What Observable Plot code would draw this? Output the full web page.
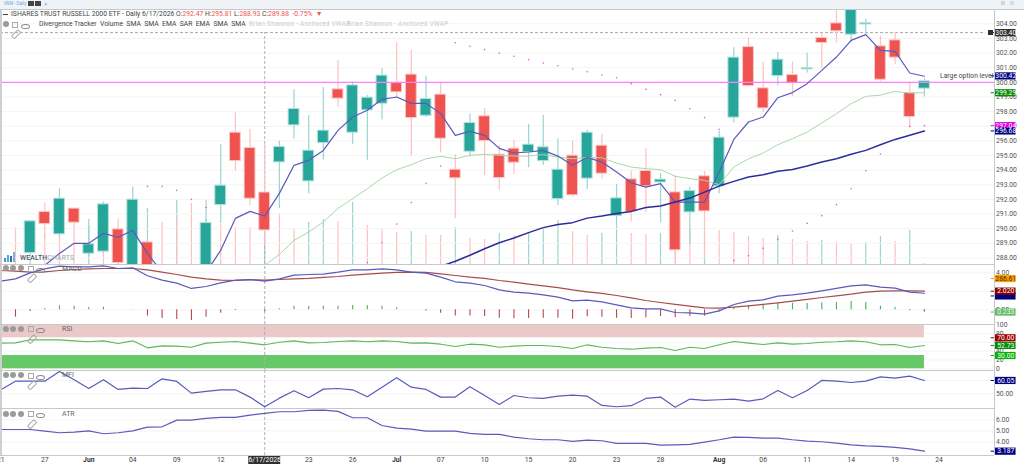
<!DOCTYPE html>
<html><head><meta charset="utf-8">
<script src="https://cdn.jsdelivr.net/npm/d3@7"></script>
<script src="https://cdn.jsdelivr.net/npm/@observablehq/plot@0.6"></script>
<style>
html,body{margin:0;padding:0;background:#fff;width:1024px;height:464px;overflow:hidden;font-family:Roboto,"Liberation Sans",sans-serif}
#stage{position:relative;width:1024px;height:464px;overflow:hidden}
#stage svg{position:absolute;left:0}
.t{position:absolute;white-space:nowrap;font-size:7px;line-height:8px;color:#444}
.b{position:absolute}
</style></head><body><div id="stage"></div>
<script>
const opens=[287.4,288.33,291.14,289.61,291.37,288.29,288.43,289.95,287.0,289.06,287.2,287.4,287.0,287.2,291.61,296.56,295.51,292.47,294.53,297.06,293.23,295.85,299.52,296.56,298.09,298.54,299.95,300.53,297.72,299.16,294.03,295.26,297.68,295.06,295.47,295.22,294.62,292.02,294.99,293.42,295.67,290.86,293.37,293.94,293.16,292.48,291.11,293.58,292.89,297.59,302.41,299.59,300.43,300.50,300.89,303.03,304.03,303.26,303.96,302.46,302.87,299.27,299.57];
const highs=[287.5,290.5,291.73,292.73,291.37,290.62,291.82,290.64,292.84,289.06,287.4,290.86,287.4,291.9,295.74,297.90,296.77,295.81,295.97,299.50,297.74,299.64,301.50,300.02,299.11,300.94,302.71,302.19,300.41,299.95,295.06,297.86,298.2,295.69,296.04,297.13,297.76,296.15,295.99,296.72,296.43,293.01,293.94,295.47,293.76,293.62,292.84,293.92,296.65,302.37,303.03,301.37,302.03,301.39,302.0,303.37,305.3,305.6,304.31,303.14,303.40,300.02,300.25];
const lows=[286.5,288.33,289.27,289.4,290.0,288.1,288.3,287.5,286.8,286.8,286,286,286,287,290.34,293.94,291.59,288.93,291.37,296.12,292.39,294.67,298.3,295.74,294.67,297.45,299.0,294.96,297.59,295.17,290.68,294.89,293.64,292.62,293.71,294.17,294.33,291.59,292.16,292.67,293.37,290.16,290.45,291.09,290.38,287.63,288.91,287.97,292.39,297.22,299.66,297.90,299.75,299.04,300.64,300.94,302.69,302.73,303.26,300.07,301.21,296.94,299.0];
const closes=[286.8,290.50,290.31,292.05,290.41,288.93,291.66,287.65,291.98,287.0,286.5,286.4,286.5,290.38,292.94,294.62,292.05,289.88,295.58,298.18,295.33,296.70,298.89,299.79,298.95,300.46,299.32,297.56,298.86,296.15,293.44,297.22,295.99,293.46,294.51,295.74,295.56,294.03,292.28,296.56,293.76,292.07,291.14,292.89,293.35,288.52,292.57,291.18,296.22,301.69,299.75,298.22,301.55,299.95,300.98,302.69,303.49,305.3,304.05,300.18,301.69,297.63,300.07];
const volumes=[18.5,14,15,15,17.5,19,12.5,15,14,28,21,32,30.5,22.5,20,18.5,18.5,15.5,25.5,18,21,22.5,21.5,31,19.5,18,16,16.5,14.5,14.5,18.5,13,12.5,15.5,14.5,15.5,18,22,16.5,14.5,15.5,19,15.5,15,15.5,12.5,17.5,16,17,16,14,13,14.5,12.5,11.5,12,11,10,11,14,11.5,17,0.5];
const volumeUp=[0,1,0,0,0,1,0,0,1,1,0,1,0,1,0,0,0,1,0,0,1,1,0,1,0,0,0,1,0,0,1,0,0,1,0,1,1,1,0,0,1,1,0,0,1,0,0,1,0,0,0,0,1,0,0,1,0,0,1,1,0,1,0];
// fast SMA begins at bar 2, slow SMA at bar 17, VWAP at bar 29
const smaFast=[287.49,288.31,289.0,289.0,289.68,289.41,289.88,288.31,287.01,286.81,286.81,287.01,288.52,290.70,291.18,290.86,292.41,294.33,294.67,295.35,296.72,297.63,298.09,298.84,299.0,298.56,298.56,297.88,296.38,296.65,296.38,295.49,295.17,295.24,295.35,294.96,294.33,294.87,294.55,293.87,293.14,292.84,293.08,291.82,291.82,291.82,293.85,296.10,297.29,297.63,298.95,299.30,299.91,300.82,301.73,302.87,303.26,302.19,302.12,300.64,300.42];
const smaSlow=[287.49,288.24,289.20,289.77,290.45,291.39,292.05,292.73,293.46,294.03,294.37,294.78,294.94,294.78,295.01,295.08,295.01,294.96,294.96,295.06,294.89,294.78,294.85,294.85,294.48,294.21,294.10,294.03,293.58,293.42,293.30,293.01,294.21,294.78,295.17,295.74,296.15,296.60,297.22,297.86,298.54,299.04,299.13,299.38,299.27,299.29];
const vwap=[287.42,287.77,288.18,288.63,289.04,289.36,289.73,290.07,290.29,290.41,290.72,290.86,291.03,291.18,291.44,291.55,291.82,292.09,292.50,292.91,293.23,293.53,293.69,293.92,294.05,294.28,294.55,294.78,295.08,295.35,295.74,296.10,296.38,296.68];
const sarBars=[9,10,11,12,13,24,25,26,27,28,29,30,31,32,33,34,35,36,37,38,39,40,41,42,43,44,45,46,47,48,49,50,51,52,53,54,55,56,57,58,59,61,62];
const sarValues=[292.89,292.89,292.62,292.0,291.44,287.68,289.04,290.31,291.78,293.10,294.28,302.71,302.46,302.24,302.0,301.78,301.55,301.32,301.14,300.91,300.73,300.50,300.32,299.91,299.52,299.16,298.77,298.20,297.59,296.79,287.83,288.15,288.65,289.27,289.84,290.36,290.89,291.64,292.73,293.96,295.10,296.99,297.04];
// oscillators begin one bar before the first candle
const macdLine=[3.10,3.35,4.00,4.43,4.72,4.65,4.65,4.76,4.47,4.54,3.68,3.21,2.88,2.31,2.52,2.92,3.21,3.28,3.10,3.35,3.75,3.82,3.86,4.07,4.32,4.32,4.43,4.32,4.07,3.96,3.53,3.03,2.88,2.63,2.16,1.91,1.80,1.62,1.37,0.97,1.05,0.86,0.54,0.22,0.11,0.11,-0.29,-0.32,-0.47,-0.11,0.58,0.94,1.08,1.48,1.62,1.80,2.05,2.31,2.59,2.70,2.45,2.34,1.91,1.79];
const macdSignal=[4.25,4.18,4.07,4.11,4.25,4.36,4.43,4.47,4.47,4.47,4.32,4.07,3.82,3.53,3.35,3.21,3.17,3.24,3.21,3.28,3.35,3.39,3.50,3.60,3.75,3.86,3.96,4.04,4.07,4.04,3.89,3.71,3.53,3.39,3.17,2.99,2.78,2.59,2.41,2.16,1.95,1.77,1.55,1.30,1.01,0.79,0.58,0.40,0.22,0.18,0.29,0.43,0.58,0.76,0.94,1.12,1.33,1.51,1.69,1.91,2.02,2.05,2.05,2.02];
const macdHist=[-0.79,-0.18,0.14,0.43,0.40,0.25,0.29,0,0.04,-0.68,-0.94,-1.05,-1.15,-0.79,-0.36,-0.07,0,-0.22,0.11,0.40,0.36,0.40,0.40,0.47,0.43,0.40,0.22,0,-0.14,-0.36,-0.68,-0.68,-0.72,-0.90,-0.97,-0.94,-0.90,-0.90,-1.01,-0.76,-0.79,-0.90,-0.94,-0.86,-0.72,-0.86,-0.72,-0.68,-0.22,0.22,0.47,0.54,0.72,0.72,0.68,0.76,0.79,0.90,0.79,0.40,0.25,-0.11,-0.233];
const rsiValues=[58.0,58.6,65.4,65.4,65.4,63.1,60.9,63.1,57.1,63.1,47.3,51.8,51.1,48.8,57.9,60.1,61.6,57.9,54.1,60.1,63.1,58.6,59.4,61.6,63.1,60.9,63.1,61.6,57.9,58.6,55.6,50.3,55.6,54.1,48.8,51.1,52.6,52.6,50.3,45.8,54.1,48.8,45.8,44.3,46.6,48.1,41.3,48.8,45.8,54.1,61.6,57.9,54.9,58.6,55.6,57.1,60.1,60.9,63.1,60.9,54.1,54.9,48.1,52.73];
const mfiValues=[53.0,59.5,59.5,59.5,66.8,60.6,54.0,60.6,53.3,54.3,54.0,61.3,59.3,50.5,51.8,53.0,53.0,47.5,40.2,46.7,52.3,47.0,53.5,54.0,53.0,47.7,55.0,62.1,55.0,53.3,47.5,47.5,55.3,48.7,42.0,48.7,47.0,46.5,48.2,49.0,48.2,41.2,40.2,41.0,46.5,47.5,39.9,46.0,45.0,45.5,46.0,44.5,46.2,52.5,47.0,52.5,60.1,59.5,58.5,59.5,62.8,61.8,63.3,60.05];
const atrValues=[5.13,5.13,5.13,4.99,4.84,4.90,5.01,4.75,4.84,5.01,5.34,5.37,5.97,5.97,6.12,6.21,6.21,6.42,6.57,6.72,6.72,6.84,6.87,6.75,6.18,6.18,5.49,5.25,5.16,4.99,4.99,4.99,4.78,4.69,4.69,4.45,4.30,4.21,4.21,4.06,4.18,4.12,3.88,3.88,3.88,3.73,3.76,3.79,4.00,4.21,4.45,4.42,4.36,4.36,4.21,4.09,4.03,3.91,3.76,3.67,3.61,3.52,3.40,3.187];
const tickBars=[-1,2,5,8,11,14,20,23,26,29,32,35,38,41,44,48,51,54,57,60,63];
const tickLabels=["21","27","Jun","04","09","12","23","26","Jul","07","10","15","20","23","28","Aug","06","11","14","19","24"];
const crosshairBar=17, crosshairLabel="6/17/2026";
const priceTicks=d3.range(288,305);
const macdTicks=[4,2,0], rsiTicks=[100,80,60,40,20,0], mfiTicks=[50], atrTicks=[6,5,4];
const priceTags=[["303.40",303.40,"#2f2f2f","#fff"],["300.42",300.44,"#000080","#fff"],["299.29",299.29,"#098a09","#fff"],["297.04",297.04,"#e000e0","#fff"],["296.68",296.68,"#000080","#fff"]];
const macdTags=[["286.61",3.38,"#ffa000","#402800"],["",1.5,"#000080","#fff"],["2.020",2.02,"#8b0000","#fff"],["0.233",-0.24,"#66bb6a","#e8ffe8"]];
const rsiTags=[["70.00",70,"#a00000","#fff"],["52.73",52.73,"#098a09","#fff"],["30.00",30,"#0ab00a","#fff"]];
const mfiTags=[["60.05",60.05,"#000080","#fff"]];
const atrTags=[["3.187",3.187,"#000080","#fff"]];

const GREEN="#26a69a",RED="#ef5350",PGREEN="#9ad5cf",PRED="#ffc0c0",LINEBLUE="#5a5abc",GRID="#f4f4f4",AXIS="#555";
const FONT="Roboto,'Liberation Sans',sans-serif";
const candles=opens.map((o,i)=>({i,open:o,high:highs[i],low:lows[i],close:closes[i]}));
const up=candles.filter(d=>d.close>=d.open), down=candles.filter(d=>d.close<d.open);
const vols=volumes.map((v,i)=>({i,v,up:volumeUp[i]}));
const pts=(arr,start)=>arr.map((v,k)=>({i:start+k,v}));
const XD=[-1.023,66.78];
const stage=document.getElementById("stage");
function panel(top,height,domain,marks){
  const svg=Plot.plot({width:1024,height,marginTop:0,marginBottom:0,marginLeft:0,marginRight:30,
    style:{background:"transparent",overflow:"visible",fontFamily:FONT},
    x:{domain:XD,axis:null},y:{domain,axis:null},marks});
  svg.style.top=top+"px";stage.appendChild(svg);return svg;
}
const axisOf=(ticks,fmt)=>Plot.axisY(ticks,{anchor:"right",tickSize:0,tickPadding:1.5,fontSize:6.8,fill:AXIS,stroke:null,tickFormat:fmt,label:null});
const gridOf=ticks=>Plot.gridY(ticks,{stroke:GRID,strokeOpacity:1,strokeWidth:1});
const cross=(y1,y2)=>Plot.ruleX([crosshairBar],{y1,y2,stroke:"#b0b0b0",strokeDasharray:"3,2",strokeWidth:1});
const tagsOf=tags=>[
  Plot.ruleY(tags,{y:d=>d[1],x1:66.55,x2:66.85,stroke:d=>d[2],strokeWidth:1}),
  Plot.ruleY(tags,{y:d=>d[1],x1:66.85,x2:68.25,stroke:d=>d[2],strokeWidth:7.2}),
  Plot.text(tags,{y:d=>d[1],x:67.55,text:d=>d[0],fill:d=>d[3],fontSize:6.8,textAnchor:"middle"})
];
const f2=d3.format(".2f");

// volume layer under the price layer
panel(9,255,[0,127.5],[
  Plot.ruleX(vols.filter(d=>!d.up),{x:"i",y1:0,y2:"v",stroke:PRED,strokeWidth:1.2}),
  Plot.ruleX(vols.filter(d=>d.up),{x:"i",y1:0,y2:"v",stroke:PGREEN,strokeWidth:1.2})
]);
const PD=[287.55,304.98];
panel(9,255,PD,[
  gridOf(priceTicks),
  axisOf(priceTicks,f2),
  cross(287.55,303.4),
  Plot.ruleY([303.40],{x1:XD[0],x2:66.2,stroke:"#a8a8a8",strokeDasharray:"3,2",strokeWidth:1}),
  Plot.ruleX(down,{x:"i",y1:"low",y2:"high",stroke:PRED,strokeWidth:1.2,clip:true}),
  Plot.ruleX(up,{x:"i",y1:"low",y2:"high",stroke:PGREEN,strokeWidth:1.2,clip:true}),
  Plot.rect(down,{x1:d=>d.i-.37,x2:d=>d.i+.37,y1:"open",y2:"close",fill:RED,stroke:"#fbc9c7",strokeWidth:1,clip:true}),
  Plot.rect(up,{x1:d=>d.i-.37,x2:d=>d.i+.37,y1:"open",y2:"close",fill:GREEN,stroke:"#b5e0dc",strokeWidth:1,clip:true}),
  Plot.ruleY([300],{stroke:"#ff7dff",strokeWidth:1.3}),
  Plot.line(pts(smaSlow,17),{x:"i",y:"v",stroke:"#a9d9a9",strokeWidth:1,clip:true}),
  Plot.line(pts(smaFast,2),{x:"i",y:"v",stroke:LINEBLUE,strokeWidth:1.2,clip:true}),
  Plot.line(pts(vwap,29),{x:"i",y:"v",stroke:"#2c2c9c",strokeWidth:1.5,clip:true}),
  Plot.dot(sarBars.map((b,k)=>({i:b,v:sarValues[k]})),{x:"i",y:"v",r:0.8,fill:"#f04cf0",clip:true}),
  Plot.text(["Large option level"],{x:66.7,y:300.44,fontSize:6.8,fill:"#444",textAnchor:"end"}),
  ...tagsOf(priceTags)
]);
const MD=[-1.586,4.90];
panel(264,60,MD,[
  gridOf(macdTicks),axisOf(macdTicks,f2),cross(MD[0],MD[1]),
  Plot.ruleX(pts(macdHist,0).filter(d=>d.v>=0),{x:"i",y1:0,y2:"v",stroke:"#4caf50",strokeWidth:1.1}),
  Plot.ruleX(pts(macdHist,0).filter(d=>d.v<0),{x:"i",y1:0,y2:"v",stroke:"#b24a4a",strokeWidth:1.1}),
  Plot.line(pts(macdSignal,-1),{x:"i",y:"v",stroke:"#a54d4d",strokeWidth:1.2}),
  Plot.line(pts(macdLine,-1),{x:"i",y:"v",stroke:LINEBLUE,strokeWidth:1.2}),
  ...tagsOf(macdTags)
]);
const RD=[-3.84,100];
panel(324,46,RD,[
  gridOf(rsiTicks),axisOf(rsiTicks,d=>String(d)),
  Plot.rect([0],{x1:XD[0],x2:62,y1:70,y2:100,fill:"#ecc9c9"}),
  Plot.rect([0],{x1:XD[0],x2:62,y1:0,y2:30,fill:"#66c868"}),
  cross(RD[0],RD[1]),
  Plot.line(pts(rsiValues,-1),{x:"i",y:"v",stroke:"#5cb85c",strokeWidth:1.1}),
  ...tagsOf(rsiTags)
]);
const FD=[38.9,67.56];
panel(370,38,FD,[
  gridOf([50,60]),axisOf(mfiTicks,f2),cross(FD[0],FD[1]),
  Plot.line(pts(mfiValues,-1),{x:"i",y:"v",stroke:LINEBLUE,strokeWidth:1.2}),
  ...tagsOf(mfiTags)
]);
const AD=[2.80,7.01];
panel(408,47,AD,[
  gridOf(atrTicks),axisOf(atrTicks,f2),cross(AD[0],AD[1]),
  Plot.line(pts(atrValues,-1),{x:"i",y:"v",stroke:LINEBLUE,strokeWidth:1.2}),
  ...tagsOf(atrTags)
]);
const ticks=tickBars.map((b,k)=>({i:b,label:tickLabels[k]}));
panel(455,9,[0,1],[
  Plot.text(ticks.filter(d=>!/[A-Z]/.test(d.label)),{x:"i",y:0.5,text:"label",fontSize:6.8,fill:"#444"}),
  Plot.text(ticks.filter(d=>/[A-Z]/.test(d.label)),{x:"i",y:0.5,text:"label",fontSize:6.8,fill:"#333",fontWeight:"bold"}),
  Plot.ruleY([0.5],{x1:crosshairBar-1.09,x2:crosshairBar+1.09,stroke:"#2f2f2f",strokeWidth:8}),
  Plot.text([crosshairLabel],{x:crosshairBar,y:0.5,fontSize:6.8,fill:"#fff"})
]);

// chrome
function box(l,t,w,h,css){const e=document.createElement("div");e.className="b";e.style.cssText=`left:${l}px;top:${t}px;width:${w}px;height:${h}px;${css}`;stage.appendChild(e);return e;}
function text(l,t,s,css=""){const e=document.createElement("div");e.className="t";e.style.cssText=`left:${l}px;top:${t}px;${css}`;e.innerHTML=s;stage.appendChild(e);return e;}
box(0,0,1024,9,"background:#f0f3f5");
box(0,9,1024,1,"background:#c6c9cc");
box(0,9,1.5,446,"background:#cfcfcf");
box(994,9,1,446,"background:#c8c8c8");
[264,323.5,370,408,454.5].forEach(y=>box(0,y,994,1,"background:#c8c8c8"));
text(4,1,"IWM - Daily","font-size:4.5px;line-height:6px;color:#6aa6e8");
box(28,1,5.5,5,"background:#444");box(35,1,5.5,5,"background:#444");
text(44,1,"×","font-size:6px;line-height:6px;color:#6aa6e8");
box(1001,1,4,4,"background:#d5d5d5");box(1010,1,4,4,"background:#cfe0f5");
box(3,13.5,5,1,"background:#444");
box(987.5,29.8,5,5,"background:#2f2f2f");
const R=s=>`<span style="color:${RED}">${s}</span>`;
text(11,10,`ISHARES TRUST RUSSELL 2000 ETF - Daily 6/17/2026 O:${R("292.47")} H:${R("295.81")} L:${R("288.93")} C:${R("289.88")} &nbsp;${R("-0.75% &nbsp;▼")}`,"line-height:8px;font-size:6.8px");
text(39,20,"Divergence Tracker&nbsp; Volume&nbsp; SMA&nbsp; SMA&nbsp; EMA&nbsp; SAR&nbsp; EMA&nbsp; SMA&nbsp; SMA","font-size:6.8px");
text(249,20,"Brian Shannon - Anchored VWAP","font-size:6.4px;letter-spacing:.3px;color:#c9c9c9");
text(347,20,"Brian Shannon - Anchored VWAP","font-size:6.4px;letter-spacing:.3px;color:#c9c9c9");
function icons(y,circles){
  const c="#9a9a9a";
  (circles?[5.5,13,21]:[5.5]).forEach(x=>box(x-3,y-3,6,6,`background:${c};border-radius:50%`));
  const sq=circles?30:14.5, ey=circles?39.5:24;
  box(sq-2.5,y-2.5,4.4,4.4,"border:0.6px solid #aaa");
  box(ey-3.5,y+0-1.5+1,7,3.4,"border:0.9px solid #888;border-radius:50%");
  box(sq-3.2,y+8,7.5,2.6,"border:0.7px solid #aaa;border-radius:1.4px;transform:rotate(-45deg)");
}
icons(24,false);icons(268,true);icons(328.5,true);icons(375,true);icons(413.5,true);
text(62,265,"MACD","color:#666");text(62,325,"RSI","color:#666");text(62,371,"MFI","color:#666");text(62,410,"ATR","color:#666");
// logo
[[4,258,2,4,"#4a90c8"],[7,255,2,7,"#5aa3d8"],[10,256,2,6,"#2f6f9e"],[13,252,2,10,"#6fb3e0"]].forEach(a=>box(a[0],a[1],a[2],a[3],`background:${a[4]}`));
text(20,253.5,'<span style="color:#475563;font-weight:500">WEALTH</span><span style="color:#9aa5ad">CHARTS</span>',"font-size:6.8px;letter-spacing:.2px");
</script></body></html>
